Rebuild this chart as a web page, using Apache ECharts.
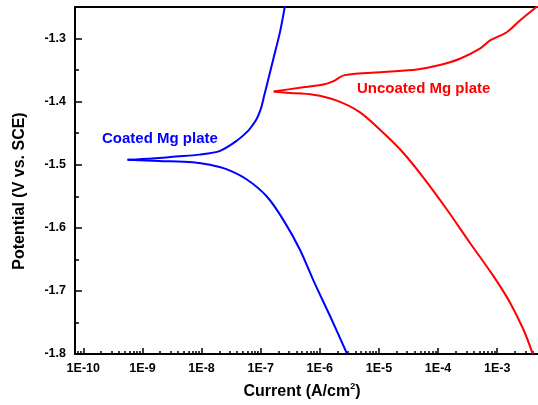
<!DOCTYPE html>
<html>
<head>
<meta charset="utf-8">
<script src="https://cdn.jsdelivr.net/npm/echarts@6.0.0/dist/echarts.min.js"></script>
<style>
html, body { margin: 0; padding: 0; background: #fff; }
#chart { width: 538px; height: 405px; }
</style>
</head>
<body>
<div id="chart"></div>
<script>
// current in A/cm2, potential in V vs. SCE; every branch starts at the corrosion tip
var coatedAnodicI = [5.6e-10, 1.48e-9, 3.7e-9, 9.3e-9, 2.06e-8, 3.94e-8, 6.19e-8, 7.45e-8, 8.59e-8, 9.57e-8, 1.045e-7, 1.15e-7, 1.27e-7, 1.64e-7, 2.13e-7, 2.58e-7];
var coatedAnodicE = [-1.492, -1.490, -1.487, -1.484, -1.478, -1.462, -1.446, -1.436, -1.427, -1.417, -1.406, -1.390, -1.374, -1.332, -1.289, -1.2475];
var coatedCathodicI = [5.6e-10, 1.95e-9, 7.1e-9, 1.38e-8, 2.63e-8, 5.75e-8, 1.26e-7, 2.4e-7, 4.57e-7, 8.1e-7, 1.51e-6, 2.9e-6];
var coatedCathodicE = [-1.492, -1.494, -1.496, -1.500, -1.507, -1.523, -1.550, -1.587, -1.634, -1.687, -1.741, -1.80];

var uncoatedAnodicI = [1.66e-7, 4.57e-7, 1.15e-6, 1.66e-6, 2.63e-6, 1.17e-5, 4.4e-5, 1.07e-4, 2.34e-4, 5.1e-4, 7.6e-4, 1.45e-3, 2.45e-3, 4.9e-3];
var uncoatedAnodicE = [-1.384, -1.378, -1.373, -1.368, -1.358, -1.353, -1.349, -1.342, -1.332, -1.316, -1.303, -1.290, -1.271, -1.248];
var uncoatedCathodicI = [1.66e-7, 2.7e-7, 7.8e-7, 1.9e-6, 4.8e-6, 1.17e-5, 2.57e-5, 5.6e-5, 1.41e-4, 3.47e-4, 8.7e-4, 1.66e-3, 2.8e-3, 4.0e-3];
var uncoatedCathodicE = [-1.384, -1.386, -1.389, -1.398, -1.417, -1.449, -1.481, -1.520, -1.571, -1.624, -1.677, -1.719, -1.762, -1.80];

var xTickPowers = [-10, -9, -8, -7, -6, -5, -4, -3];
var xTickLabels = ['1E-10', '1E-9', '1E-8', '1E-7', '1E-6', '1E-5', '1E-4', '1E-3'];
var yTicks = [-1.8, -1.7, -1.6, -1.5, -1.4, -1.3];
var yMinorTicks = [-1.75, -1.65, -1.55, -1.45, -1.35, -1.25];

var xMin = -10.14, xMax = -2.31;
var font = 'Liberation Sans, Arial, sans-serif';

// log10 of the current against potential
function toPoints(I, E) {
    var pts = [];
    for (var i = 0; i < I.length; i++) {
        pts.push([Math.log10(I[i]), E[i]]);
    }
    return pts;
}

// minor log ticks 2..9 inside every decade
var xMinorTicks = [];
for (var p = -11; p <= -3; p++) {
    for (var k = 2; k <= 9; k++) {
        var v = p + Math.log10(k);
        if (v > xMin && v < xMax) xMinorTicks.push(v);
    }
}

function lineSeries(I, E, color) {
    return {
        type: 'line',
        data: toPoints(I, E),
        showSymbol: false,
        symbol: 'none',
        smooth: 0.3,
        clip: true,
        lineStyle: { color: color, width: 2 },
        itemStyle: { color: color },
        silent: true
    };
}

var myChart = echarts.init(document.getElementById('chart'), null, { renderer: 'canvas' });
var option = {
    animation: false,
    backgroundColor: '#fff',
    grid: { left: 75, right: 0, top: 7, bottom: 51, containLabel: false, outerBoundsMode: 'none' },
    xAxis: [
        {
            type: 'value', position: 'bottom', min: xMin, max: xMax,
            splitLine: { show: false },
            axisLine: { lineStyle: { color: '#000', width: 2 } },
            axisTick: { inside: true, length: 6, lineStyle: { color: '#000', width: 1.5 }, customValues: xTickPowers },
            axisLabel: {
                customValues: xTickPowers, margin: 8, color: '#000',
                fontFamily: font, fontWeight: 'bold', fontSize: 12.5,
                formatter: function (val) {
                    var idx = xTickPowers.indexOf(Math.round(val));
                    return idx >= 0 ? xTickLabels[idx] : '';
                }
            }
        },
        {
            type: 'value', position: 'bottom', offset: 0, min: xMin, max: xMax,
            splitLine: { show: false },
            axisLine: { show: false },
            axisTick: { inside: true, length: 3, lineStyle: { color: '#000', width: 1.5 }, customValues: xMinorTicks },
            axisLabel: { show: false }
        },
        {
            type: 'value', position: 'top', min: xMin, max: xMax,
            splitLine: { show: false },
            axisLine: { lineStyle: { color: '#000', width: 2 } },
            axisTick: { show: false },
            axisLabel: { show: false }
        }
    ],
    yAxis: [
        {
            type: 'value', position: 'left', min: -1.8, max: -1.25,
            splitLine: { show: false },
            axisLine: { lineStyle: { color: '#000', width: 2 } },
            axisTick: { inside: true, length: 7, lineStyle: { color: '#000', width: 1.5 }, customValues: yTicks },
            axisLabel: {
                customValues: yTicks, margin: 9, color: '#000',
                fontFamily: font, fontWeight: 'bold', fontSize: 12.5,
                formatter: function (val) { return val.toFixed(1); }
            }
        },
        {
            type: 'value', position: 'left', offset: 0, min: -1.8, max: -1.25,
            splitLine: { show: false },
            axisLine: { show: false },
            axisTick: { inside: true, length: 4, lineStyle: { color: '#000', width: 1.5 }, customValues: yMinorTicks },
            axisLabel: { show: false }
        }
    ],
    graphic: [
        {
            type: 'text', x: 20, y: 191, rotation: Math.PI / 2,
            style: {
                text: 'Potential (V vs. SCE)', fill: '#000',
                font: 'bold 16px ' + font, align: 'center', verticalAlign: 'middle'
            }
        },
        {
            type: 'text', x: 302, y: 392,
            style: {
                text: '{a|Current (A/cm}{s|2}{a|)}', align: 'center', verticalAlign: 'middle',
                rich: {
                    a: { fill: '#000', fontFamily: font, fontWeight: 'bold', fontSize: 16, lineHeight: 19 },
                    s: { fill: '#000', fontFamily: font, fontWeight: 'bold', fontSize: 9, lineHeight: 19, verticalAlign: 'top' }
                }
            }
        },
        {
            type: 'text', x: 102, y: 139,
            style: {
                text: 'Coated Mg plate', fill: '#0000ff',
                font: 'bold 15px ' + font, align: 'left', verticalAlign: 'middle'
            }
        },
        {
            type: 'text', x: 357, y: 89,
            style: {
                text: 'Uncoated Mg plate', fill: '#ff0000',
                font: 'bold 15px ' + font, align: 'left', verticalAlign: 'middle'
            }
        }
    ],
    series: [
        lineSeries(coatedAnodicI, coatedAnodicE, '#0000ff'),
        lineSeries(coatedCathodicI, coatedCathodicE, '#0000ff'),
        lineSeries(uncoatedAnodicI, uncoatedAnodicE, '#ff0000'),
        lineSeries(uncoatedCathodicI, uncoatedCathodicE, '#ff0000')
    ]
};
myChart.setOption(option);
</script>
</body>
</html>
